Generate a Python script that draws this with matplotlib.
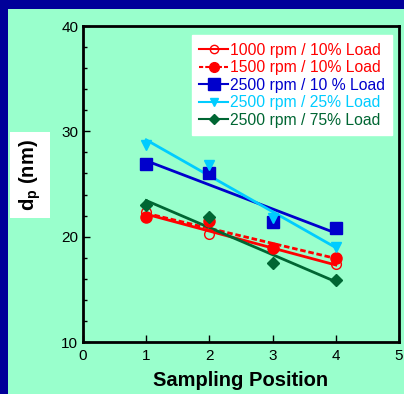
import numpy as np
import matplotlib.pyplot as plt
from matplotlib.lines import Line2D
from matplotlib.patches import Rectangle
from matplotlib.ticker import MultipleLocator

plt.rcParams['font.family'] = ['Liberation Sans', 'DejaVu Sans']

positions = [1, 2, 3, 4]
labels = ['1000 rpm / 10% Load', '1500 rpm / 10% Load', '2500 rpm / 10 % Load',
          '2500 rpm / 25% Load', '2500 rpm / 75% Load']
dp_1000_10 = [22.3, 20.3, 18.9, 17.4]
dp_1500_10 = [21.9, 21.5, 18.9, 18.0]
dp_2500_10 = [26.9, 26.0, 21.4, 20.8]
dp_2500_25 = [28.7, 26.8, 21.8, 19.0]
dp_2500_75 = [23.0, 21.9, 17.5, 15.9]
series = [dp_1000_10, dp_1500_10, dp_2500_10, dp_2500_25, dp_2500_75]

colors = ['#FF0000', '#FF0000', '#0000CC', '#00CCFF', '#006633']
markers = ['o', 'o', 's', 'v', 'D']
msizes = [7, 8, 9, 7, 6]
mfaces = ['none', '#FF0000', '#0000CC', '#00CCFF', '#006633']
styles = ['-', (0, (2, 1)), '-', '-', '-']

bg = '#99FFCC'
fig = plt.figure(figsize=(4.04, 3.94), dpi=100, facecolor=bg)
ax = fig.add_axes([83 / 404, 1 - 342 / 394, 316 / 404, 316 / 394])
ax.set_facecolor(bg)

x = np.array(positions)
handles = []
for i, y in enumerate(series):
    k, b = np.polyfit(x, y, 1)
    ax.plot([x[0], x[-1]], [k * x[0] + b, k * x[-1] + b], color=colors[i],
            linestyle=styles[i], lw=2, zorder=2)
    ax.plot(x, y, linestyle='none', marker=markers[i], ms=msizes[i],
            mfc=mfaces[i], mec=colors[i], mew=1, zorder=3)
    handles.append(Line2D([], [], color=colors[i], linestyle=styles[i], lw=1.5,
                          marker=markers[i], ms=msizes[i] - 1, mfc=mfaces[i],
                          mec=colors[i]))

ax.set_xlim(0, 5)
ax.set_ylim(10, 40)
ax.xaxis.set_major_locator(MultipleLocator(1))
ax.yaxis.set_major_locator(MultipleLocator(10))
ax.yaxis.set_minor_locator(MultipleLocator(2))
ax.tick_params(which='both', direction='in', labelsize=11, colors='black')
ax.tick_params(which='major', length=5, width=1)
ax.tick_params(which='minor', length=3, width=1)
ax.tick_params(axis='x', pad=5)
for s in ax.spines.values():
    s.set_linewidth(2)

ax.set_xlabel('Sampling Position', fontsize=14.5, fontweight='bold', labelpad=6)

fig.text(30 / 404, 1 - 175 / 394, r'd$_\mathregular{p}$ (nm)', rotation=90,
         ha='center', va='center', fontsize=14.5, fontweight='bold',
         bbox=dict(facecolor='white', edgecolor='none', pad=5))

leg = ax.legend(handles, labels, loc='upper right', bbox_to_anchor=(0.978, 0.97),
                fontsize=11.3, labelcolor=colors, frameon=True, fancybox=False,
                framealpha=1, facecolor='white', edgecolor='white',
                handlelength=1.8, handletextpad=0.15, labelspacing=0.16,
                borderpad=0.45, borderaxespad=0)

fig.patches.append(Rectangle((0, 0), 8 / 404, 1, transform=fig.transFigure,
                             facecolor='#000099', edgecolor='none'))
fig.patches.append(Rectangle((0, 1 - 9 / 394), 1, 9 / 394, transform=fig.transFigure,
                             facecolor='#000099', edgecolor='none'))

fig.savefig('out.png', dpi=100, facecolor=bg)
